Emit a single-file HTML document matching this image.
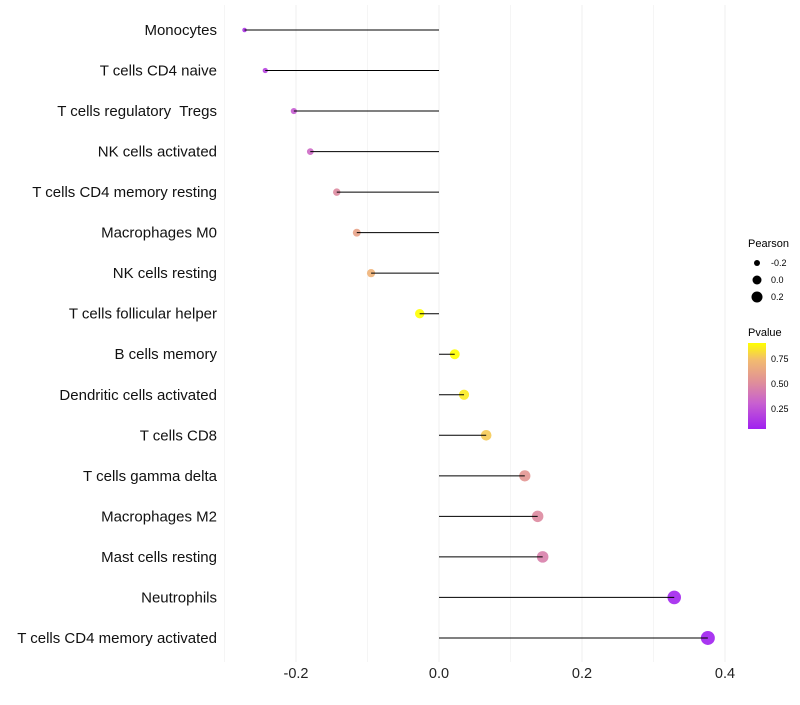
<!DOCTYPE html>
<html><head><meta charset="utf-8"><style>
body{margin:0;background:#fff;font-family:"Liberation Sans",sans-serif}
text{white-space:pre}
</style></head><body>
<svg id="chart" width="800" height="700" xmlns="http://www.w3.org/2000/svg" font-family="Liberation Sans, sans-serif">
<defs><linearGradient id="pg" x1="0" y1="1" x2="0" y2="0">
<stop offset="0" stop-color="#A020F0"/><stop offset="0.3" stop-color="#C860D0"/><stop offset="0.55" stop-color="#E09098"/><stop offset="0.8" stop-color="#F2BA70"/><stop offset="1" stop-color="#FFFF00"/></linearGradient></defs>
<g id="grid"></g><g id="marks"></g><g id="labels"></g>
<g>
<text x="748" y="247" font-size="11">Pearson</text>
<circle cx="757" cy="263" r="3" fill="#000"/>
<text x="771" y="266" font-size="9">-0.2</text>
<circle cx="757" cy="280" r="4.5" fill="#000"/>
<text x="771" y="283" font-size="9">0.0</text>
<circle cx="757" cy="297" r="5.5" fill="#000"/>
<text x="771" y="300" font-size="9">0.2</text>
<text x="748" y="336" font-size="11">Pvalue</text>
<rect x="748" y="343" width="18" height="86" fill="url(#pg)"/>
<text x="771" y="362" font-size="9">0.75</text>
<text x="771" y="387" font-size="9">0.50</text>
<text x="771" y="412" font-size="9">0.25</text>
</g>
</svg>
<script>
const categories=["Monocytes","T cells CD4 naive","T cells regulatory  Tregs","NK cells activated","T cells CD4 memory resting","Macrophages M0","NK cells resting","T cells follicular helper","B cells memory","Dendritic cells activated","T cells CD8","T cells gamma delta","Macrophages M2","Mast cells resting","Neutrophils","T cells CD4 memory activated"];
const pearson=[-0.272,-0.243,-0.203,-0.180,-0.143,-0.115,-0.095,-0.027,0.022,0.035,0.066,0.120,0.138,0.145,0.329,0.376];
const pvalue=[0.14,0.2,0.3,0.36,0.5,0.62,0.7,0.92,0.92,0.86,0.78,0.56,0.5,0.46,0.08,0.06];
const xTicks=[-0.2,0,0.2,0.4];
const xTickLabels=["-0.2","0.0","0.2","0.4"];
const xMinor=[-0.3,-0.1,0.1,0.3];
const NS="http://www.w3.org/2000/svg";
const xs=v=>439+v*715;
const ys=i=>30+i*40.53;
function mk(t,a,p){const e=document.createElementNS(NS,t);for(const k in a)e.setAttribute(k,a[k]);document.getElementById(p).appendChild(e);return e;}
function lerp(a,b,t){return Math.round(a+(b-a)*t);}
const stops=[[0.06,[160,32,240]],[0.32,[200,96,208]],[0.53,[224,144,152]],[0.74,[242,186,112]],[0.91,[255,255,0]]];
function col(p){if(p<=stops[0][0])return "rgb("+stops[0][1]+")";for(let i=1;i<stops.length;i++){if(p<=stops[i][0]){const t=(p-stops[i-1][0])/(stops[i][0]-stops[i-1][0]);const a=stops[i-1][1],b=stops[i][1];return `rgb(${lerp(a[0],b[0],t)},${lerp(a[1],b[1],t)},${lerp(a[2],b[2],t)})`;}}return "rgb(255,255,0)";}
xMinor.forEach(v=>{const l=mk("line",{x1:xs(v),x2:xs(v),y1:5,y2:662,stroke:"#f5f5f5","stroke-width":1},"grid");

});
xTicks.forEach((v,i)=>{const l=mk("line",{x1:xs(v),x2:xs(v),y1:5,y2:662,stroke:"#efefef","stroke-width":1},"grid");


const t=mk("text",{x:xs(v),y:678,"text-anchor":"middle","font-size":14.5,fill:"#222"},"labels");t.textContent=xTickLabels[i];

});
categories.forEach((c,i)=>{const y=ys(i);
const t=mk("text",{x:217,y:y+5,"text-anchor":"end","font-size":15,fill:"#111"},"labels");t.textContent=c;


const v=pearson[i];const r=Math.sqrt(Math.max(2,5+68*(v+0.272)));
const ci=mk("circle",{cx:xs(v),cy:y,r:r,fill:col(pvalue[i]),"fill-opacity":0.9},"marks");


const l=mk("line",{x1:xs(0),x2:xs(v),y1:y,y2:y,stroke:"#000","stroke-width":1},"marks");

});
</script>
</body></html>
